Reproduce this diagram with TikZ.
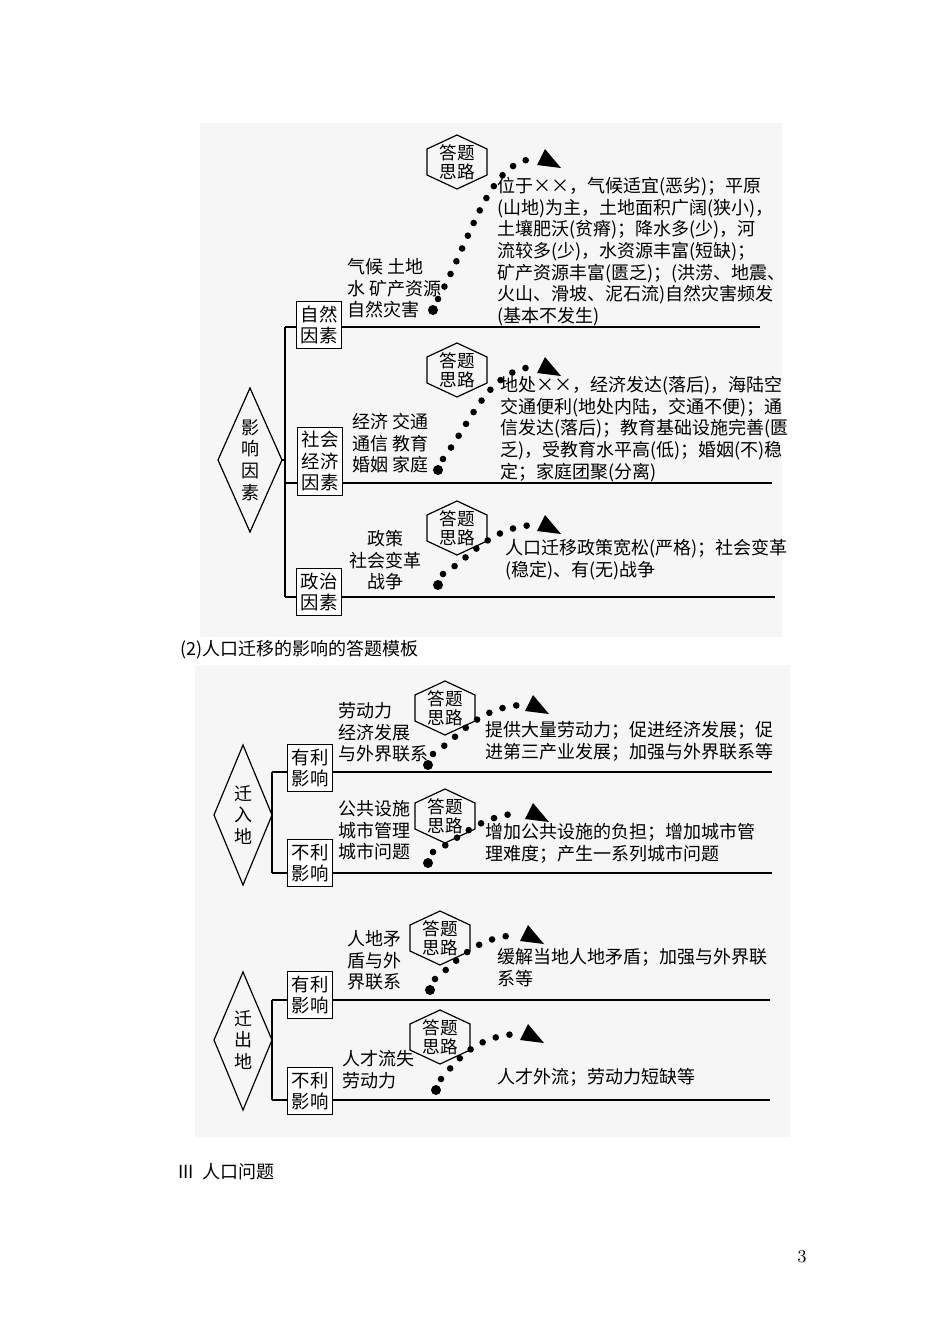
\documentclass[tikz,border=0pt]{standalone}
\usepackage{fontspec}
\newfontfamily\cjk{Noto Sans CJK SC}
\begin{document}
\begin{tikzpicture}[x=0.5pt,y=-0.5pt,
  txt/.style={font=\cjk\fontsize{9}{10.8}\selectfont,inner sep=0pt,align=left},
  hx/.style={font=\cjk\fontsize{8.8}{9.6}\selectfont,inner sep=0pt,align=center},
  bx/.style={draw,fill=white,font=\cjk\fontsize{9.2}{10.6}\selectfont,inner sep=2.2pt,align=center},
  ln/.style={line width=0.6pt},
  dots/.style={line width=3.3pt,line cap=round,dash pattern=on 0pt off 7pt}]
\useasboundingbox (0,0) rectangle (950,1344);
\fill[gray!7] (200,123) rectangle (782,637);
\fill[gray!7] (195,665) rectangle (790,1137);
\newcommand\hexflow[5]{%
  \node[hx] (#1) at (#2,#3) {答题\\思路};
  \draw[ln] (#2,#3-27)--(#2+30,#3-13)--(#2+30,#3+13)--(#2,#3+27)--(#2-30,#3+13)--(#2-30,#3-13)--cycle;
  \coordinate (#1s) at (#4,#5);
  \coordinate (#1e) at (#2+76,#3-3);
  \fill (#1s) circle (5);
  \draw[dots] ([shift={(5,-11)}]#1s) .. controls (#2+15,{(#5+#3)/2}) and (#2+32,#3) .. (#1e);
  \fill (#2+88,#3-13)--(#2+104,#3+6)--(#2+80,#3+3)--cycle;}
% top section
\node[txt,align=center] (d1) at (250,460) {影\\响\\因\\素};
\draw[ln] (250,388)--(282,460)--(250,532)--(218,460)--cycle;
\draw[ln] (282,460)--(285,460);
\draw[ln] (285,327)--(285,597);
\draw[ln] (285,327)--(760,327);
\draw[ln] (285,483)--(772,483);
\draw[ln] (285,597)--(775,597);
\node[bx] (b1) at (319,325) {自然\\因素};
\node[bx] (b2) at (320,461) {社会\\经济\\因素};
\node[bx] (b3) at (319,592) {政治\\因素};
\hexflow{h1}{457}{162}{433}{310}
\node[txt,anchor=north west] (l1) at (347,258) {气候 土地\\水 矿产资源\\自然灾害};
\node[txt,anchor=north west] (r1) at (497,177) {位于××，气候适宜(恶劣)；平原\\(山地)为主，土地面积广阔(狭小)，\\土壤肥沃(贫瘠)；降水多(少)，河\\流较多(少)，水资源丰富(短缺)；\\矿产资源丰富(匮乏)；(洪涝、地震、\\火山、滑坡、泥石流)自然灾害频发\\(基本不发生)};
\hexflow{h2}{457}{370}{438}{470}
\node[txt,anchor=north west] (l2) at (352,413) {经济 交通\\通信 教育\\婚姻 家庭};
\node[txt,anchor=north west] (r2) at (500,376) {地处××，经济发达(落后)，海陆空\\交通便利(地处内陆，交通不便)；通\\信发达(落后)；教育基础设施完善(匮\\乏)，受教育水平高(低)；婚姻(不)稳\\定；家庭团聚(分离)};
\hexflow{h3}{457}{528}{438}{585}
\node[txt,align=center,anchor=north] (l3) at (385,530) {政策\\社会变革\\战争};
\node[txt,anchor=north west] (r3) at (505,539) {人口迁移政策宽松(严格)；社会变革\\(稳定)、有(无)战争};
\node[txt,anchor=west] (cap1) at (180,650) {(2)人口迁移的影响的答题模板};
% middle section
\node[txt,align=center] (d2) at (243,815) {迁\\入\\地};
\draw[ln] (243,745)--(272,815)--(243,885)--(214,815)--cycle;
\draw[ln] (272,772)--(272,873);
\draw[ln] (272,772)--(772,772);
\draw[ln] (272,873)--(772,873);
\node[bx] (b4) at (310,768) {有利\\影响};
\node[bx] (b5) at (310,863) {不利\\影响};
\hexflow{h4}{445}{708}{428}{765}
\node[txt,anchor=north west] (l4) at (338,702) {劳动力\\经济发展\\与外界联系};
\node[txt,anchor=north west] (r4) at (485,721) {提供大量劳动力；促进经济发展；促\\进第三产业发展；加强与外界联系等};
\hexflow{h5}{445}{816}{428}{863}
\node[txt,anchor=north west] (l5) at (338,800) {公共设施\\城市管理\\城市问题};
\node[txt,anchor=north west] (r5) at (485,823) {增加公共设施的负担；增加城市管\\理难度；产生一系列城市问题};
% lower section
\node[txt,align=center] (d3) at (243,1040) {迁\\出\\地};
\draw[ln] (243,972)--(272,1040)--(243,1110)--(214,1040)--cycle;
\draw[ln] (272,1000)--(272,1100);
\draw[ln] (272,1000)--(770,1000);
\draw[ln] (272,1100)--(770,1100);
\node[bx] (b6) at (310,995) {有利\\影响};
\node[bx] (b7) at (310,1091) {不利\\影响};
\hexflow{h6}{440}{938}{430}{990}
\node[txt,align=center,anchor=north] (l6) at (374,930) {人地矛\\盾与外\\界联系};
\node[txt,anchor=north west] (r6) at (497,948) {缓解当地人地矛盾；加强与外界联\\系等};
\hexflow{h7}{440}{1037}{436}{1090}
\node[txt,anchor=north west] (l7) at (342,1050) {人才流失\\劳动力};
\node[txt,anchor=north west] (r7) at (497,1068) {人才外流；劳动力短缺等};
\node[txt,anchor=west] (cap2) at (178,1172) {III\ \ 人口问题};
\node[font=\fontsize{9}{10}\selectfont] (pg) at (802,1257) {3};
\end{tikzpicture}
\end{document}
